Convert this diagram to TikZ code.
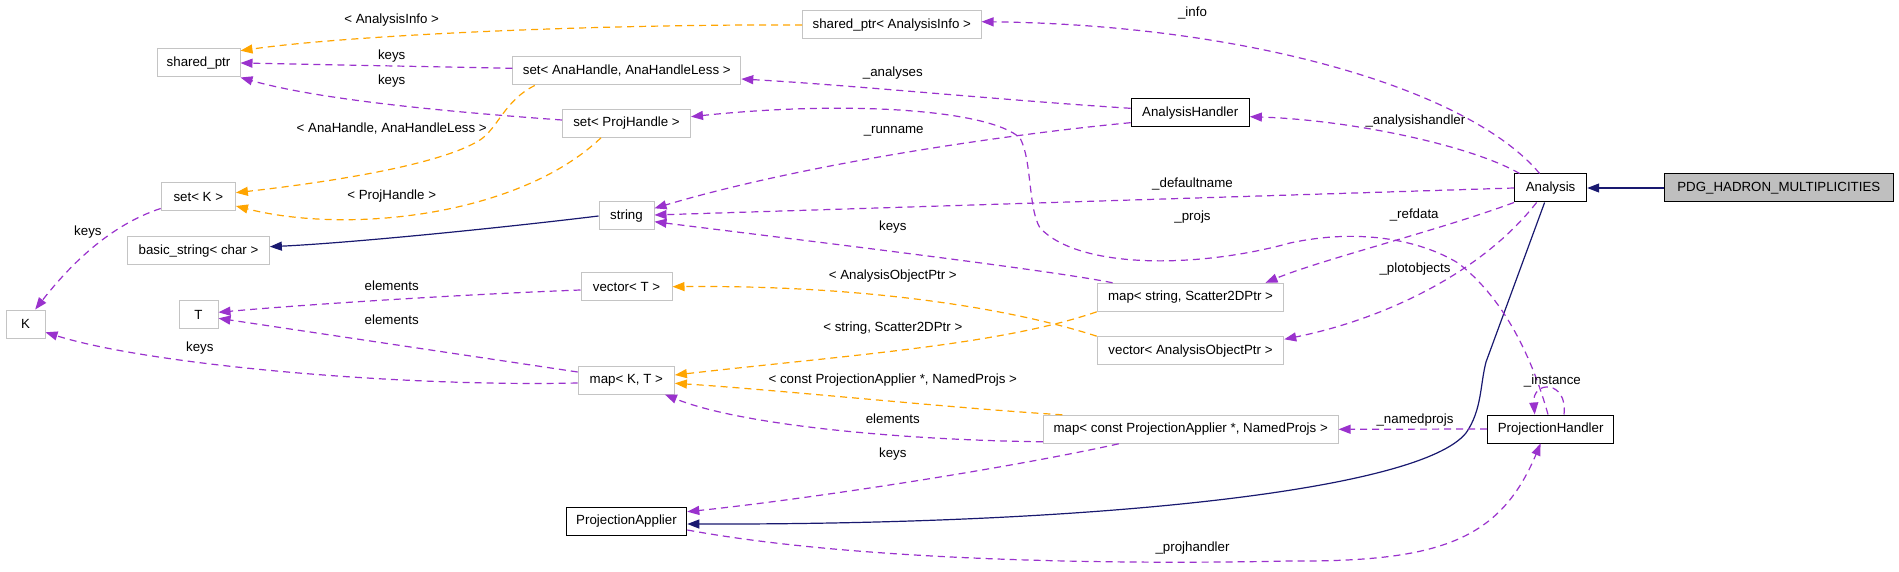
\documentclass[tikz,border=0pt]{standalone}
\usepackage{fontspec}
\setmainfont{Liberation Sans}
\usetikzlibrary{arrows.meta}
\definecolor{dpurple}{HTML}{9A32CD}
\definecolor{dorange}{HTML}{FFA500}
\definecolor{dnavy}{HTML}{191970}
\definecolor{dgray}{HTML}{BFBFBF}
\definecolor{dline}{HTML}{C4C4C4}
\begin{document}
\begin{tikzpicture}[x=1pt,y=-1pt,font=\fontsize{13.3}{15}\selectfont,
  box/.style={draw=dline,line width=1pt,minimum height=28pt,inner sep=0pt,anchor=center},
  docbox/.style={box,draw=black},
  lbl/.style={inner sep=0pt},
  tip/.style={-{Triangle[length=12pt,width=9pt]}},
  mem/.style={draw=dpurple,line width=1.2pt,dash pattern=on 7pt off 5pt,tip},
  tpl/.style={mem,draw=dorange},
  inh/.style={draw=dnavy,line width=1.2pt,tip}]
\fill[white] (0,0) rectangle (1899,572);
\useasboundingbox (0,0) rectangle (1899,572);
% nodes
\node[box,minimum width=83pt]    (sp)     at (198.5,63)   {shared\_ptr};
\node[box,minimum width=178.5pt] (spai)   at (891.8,25)   {shared\_ptr< AnalysisInfo >};
\node[box,minimum width=228pt]   (setana) at (626.8,71)   {set< AnaHandle, AnaHandleLess >};
\node[box,minimum width=128pt]   (setproj) at (626.5,123.3) {set< ProjHandle >};
\node[docbox,minimum width=118.3pt] (ah)  at (1190.2,113) {AnalysisHandler};
\node[docbox,minimum width=72.2pt]  (an)  at (1550.6,188) {Analysis};
\node[docbox,fill=dgray,minimum width=228.5pt] (pdg) at (1778.8,188) {PDG\_HADRON\_MULTIPLICITIES};
\node[box,minimum width=74.2pt]  (setk)   at (198.3,197)  {set< K >};
\node[box,minimum width=141.7pt] (bs)     at (198.5,250.7) {basic\_string< char >};
\node[box,minimum width=55pt]    (str)    at (626.5,216)  {string};
\node[box,minimum width=91pt]    (vect)   at (626.5,286.7) {vector< T >};
\node[box,minimum width=39pt]    (K)      at (25.5,324)   {K};
\node[box,minimum width=39pt]    (T)      at (198.5,314.7) {T};
\node[box,minimum width=96.2pt]  (mapkt)  at (626.3,380)  {map< K, T >};
\node[docbox,minimum width=120.6pt] (pa)  at (626.5,521.3) {ProjectionApplier};
\node[box,minimum width=186.5pt] (mapss)  at (1190.5,297.3) {map< string, Scatter2DPtr >};
\node[box,minimum width=186.5pt] (vecaop) at (1190.5,350.7) {vector< AnalysisObjectPtr >};
\node[box,minimum width=294.7pt] (mapcpa) at (1190.7,429.3) {map< const ProjectionApplier *, NamedProjs >};
\node[docbox,minimum width=126pt] (ph)    at (1550.6,429) {ProjectionHandler};
% edges
\draw[inh] (pdg.west) -- (an.east);
\draw[mem] ([xshift=-11pt]an.north) .. controls (1470,90) and (1250,25) .. ([yshift=3.3pt]spai.east);
\draw[mem] ([xshift=-31pt]an.north) .. controls (1470,145) and (1350,120) .. ([yshift=-3.7pt]ah.east);
\draw[mem] (an.west) -- ([yshift=1pt]str.east);
\draw[mem] (an.south west) .. controls (1440,230) and (1320,260) .. ([xshift=75pt]mapss.north);
\draw[mem] ([xshift=-14pt]an.south) .. controls (1480,275) and (1380,320) .. ([yshift=11.4pt]vecaop.east);
\draw[inh] ([xshift=-6pt]an.south) -- (1486,362) .. controls (1480,385) and (1482,410) .. (1466,433)
   .. controls (1420,490) and (1100,525) .. ([yshift=-2.7pt]pa.east);
\draw[mem] ([xshift=-2.6pt]ph.north) .. controls (1530,350) and (1500,295) .. (1458,263)
   .. controls (1420,240) and (1360,228) .. (1290,243)
   .. controls (1200,268) and (1080,270) .. (1040,228)
   .. controls (1028,208) and (1032,160) .. (1020,138)
   .. controls (990,110) and (850,100) .. ([yshift=6.6pt]setproj.east);
\draw[mem] ([yshift=4.7pt]ah.west) .. controls (1000,100) and (850,85) .. ([yshift=-8pt]setana.east);
\draw[mem] ([yshift=-9.7pt]ah.west) .. controls (1000,135) and (800,165) .. ([yshift=7.7pt]str.east);
\draw[mem] ([xshift=-77.9pt]mapss.north) .. controls (1050,270) and (800,240) .. ([yshift=-5.7pt]str.east);
\draw[tpl] (vecaop.north west) .. controls (1000,305) and (850,285) .. (vect.east);
\draw[tpl] (mapss.south west) .. controls (1000,345) and (850,355) .. ([yshift=5pt]mapkt.east);
\draw[tpl] ([xshift=19.5pt]mapcpa.north west) .. controls (950,408) and (780,390) .. ([yshift=-3.3pt]mapkt.east);
\draw[mem] ([yshift=2pt]mapcpa.south west) .. controls (900,440) and (740,425) .. ([xshift=38.6pt]mapkt.south);
\draw[mem] ([xshift=-72pt]mapcpa.south) .. controls (1000,470) and (800,500) .. ([yshift=9.6pt]pa.east);
\draw[mem] (ph.west) -- (mapcpa.east);
\draw[mem] ([xshift=13.4pt]ph.north) .. controls (1568,380) and (1532,380) .. ([xshift=-15.9pt]ph.north);
\draw[mem] ([yshift=-8.7pt]pa.east) .. controls (850,560) and (1100,565) .. (1290,561)
   .. controls (1440,562) and (1500,540) .. ([xshift=-10pt]ph.south);
\draw[tpl] (spai.west) .. controls (600,24) and (350,35) .. ([yshift=12.3pt]sp.east);
\draw[mem] ([yshift=2.7pt]setana.west) -- (sp.east);
\draw[mem] ([yshift=3.3pt]setproj.west) .. controls (450,112) and (320,100) .. (sp.south east);
\draw[tpl] ([xshift=-92pt]setana.south) .. controls (505,100) and (498,128) .. (480,140)
   .. controls (440,165) and (330,182) .. ([yshift=4.3pt]setk.east);
\draw[tpl] ([xshift=-25.5pt]setproj.south) .. controls (520,215) and (350,235) .. ([yshift=-9pt]setk.east);
\draw[inh] (str.west) .. controls (500,228) and (350,243) .. ([yshift=4pt]bs.east);
\draw[mem] ([yshift=3pt]setk.south west) .. controls (110,225) and (70,265) .. ([xshift=9.7pt]K.north);
\draw[mem] ([yshift=-3.3pt]vect.west) .. controls (450,295) and (300,305) .. ([yshift=2.4pt]T.east);
\draw[mem] ([yshift=8pt]mapkt.west) -- ([yshift=-3.6pt]T.east);
\draw[mem] ([yshift=-3pt]mapkt.west) .. controls (400,387) and (150,365) .. ([yshift=-8.3pt]K.east);
% labels
\node[lbl] (l1)  at (391.7,20)    {< AnalysisInfo >};
\node[lbl] (l2)  at (391.7,55.7)  {keys};
\node[lbl] (l3)  at (391.7,80.7)  {keys};
\node[lbl] (l4)  at (391.7,128.7) {< AnaHandle, AnaHandleLess >};
\node[lbl] (l5)  at (391.7,196)   {< ProjHandle >};
\node[lbl] (l6)  at (87.9,232.3)  {keys};
\node[lbl] (l7)  at (391.7,285.7) {elements};
\node[lbl] (l8)  at (391.7,320)   {elements};
\node[lbl] (l9)  at (199.8,348.3) {keys};
\node[lbl] (l10) at (1192.5,12.7) {\_info};
\node[lbl] (l11) at (892.8,72.7)  {\_analyses};
\node[lbl] (l12) at (893.7,131.7) {\_runname};
\node[lbl] (l13) at (1192.5,184.3) {\_defaultname};
\node[lbl] (l14) at (1192.5,217)  {\_projs};
\node[lbl] (l15) at (892.8,226.7) {keys};
\node[lbl] (l16) at (892.8,276)   {< AnalysisObjectPtr >};
\node[lbl] (l17) at (892.8,327.7) {< string, Scatter2DPtr >};
\node[lbl] (l18) at (892.8,380)   {< const ProjectionApplier *, NamedProjs >};
\node[lbl] (l19) at (892.8,418.3) {elements};
\node[lbl] (l20) at (892.8,454.3) {keys};
\node[lbl] (l21) at (1192.5,547.7) {\_projhandler};
\node[lbl] (l22) at (1415.4,120.7) {\_analysishandler};
\node[lbl] (l23) at (1414.2,214.7) {\_refdata};
\node[lbl] (l24) at (1415,268.7)  {\_plotobjects};
\node[lbl] (l25) at (1552.4,380.7) {\_instance};
\node[lbl] (l26) at (1415,419.7)  {\_namedprojs};
\end{tikzpicture}
\end{document}
